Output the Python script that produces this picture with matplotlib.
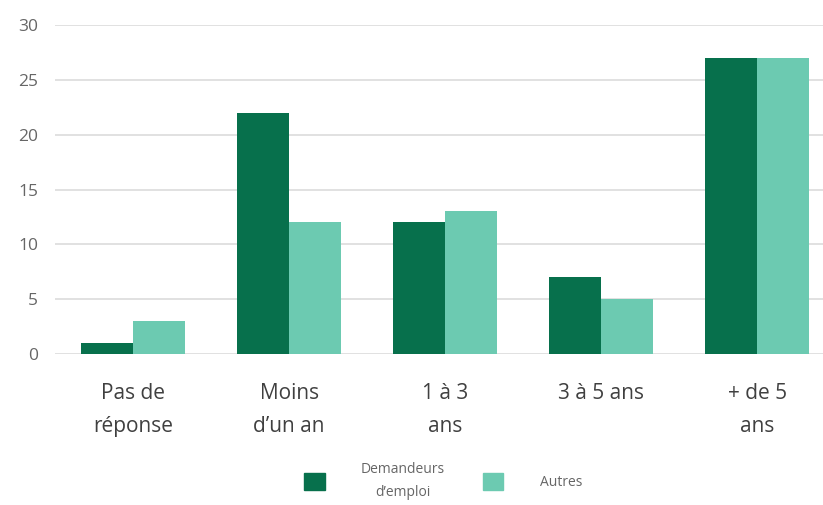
import numpy as np
import matplotlib.pyplot as plt
from matplotlib.patches import Patch

categories = ["Pas de\nréponse", "Moins\nd\u2019un an", "1 à 3\nans", "3 à 5 ans", "+ de 5\nans"]
demandeurs = [1, 22, 12, 7, 27]
autres = [3, 12, 13, 5, 27]
series_names = ["Demandeurs\nd\u2019emploi", "Autres"]
yticks = [0, 5, 10, 15, 20, 25, 30]

dark = "#07704c"
light = "#6ccab1"

plt.rcParams["font.family"] = ["Open Sans", "DejaVu Sans"]

fig = plt.figure(figsize=(8.23, 5.05), dpi=100)
ax = fig.add_axes([55 / 823, 151 / 505, 768 / 823, 329 / 505])

x = np.arange(len(categories))
w = 1 / 3
ax.bar(x - w / 2, demandeurs, w, color=dark, zorder=2)
ax.bar(x + w / 2, autres, w, color=light, zorder=2)

ax.set_xlim(-0.5, 4.42)
ax.set_ylim(0, 30)
ax.set_yticks(yticks)
ax.yaxis.grid(True, color="#dcdcdc", linewidth=1.2, zorder=0)
ax.set_axisbelow(True)
for s in ax.spines.values():
    s.set_visible(False)
ax.tick_params(axis="y", length=0, pad=12, labelsize=12.5, labelcolor="#666666")
ax.set_xticks(x)
ax.set_xticklabels(categories, fontsize=15, color="#404040", linespacing=1.75, va="top")
ax.tick_params(axis="x", length=0, pad=21)

handles = [Patch(color=dark), Patch(color=light)]
leg = fig.legend(handles, series_names, loc="center", bbox_to_anchor=(443 / 823, 1 - 481 / 505),
                 ncol=2, frameon=False, fontsize=10, labelcolor="#666666",
                 handlelength=1.5, handleheight=1.5, columnspacing=2.7, handletextpad=2.6)
for t in leg.get_texts():
    t.set_multialignment("center")
    t.set_linespacing(1.7)

fig.savefig("out.png", dpi=100)
